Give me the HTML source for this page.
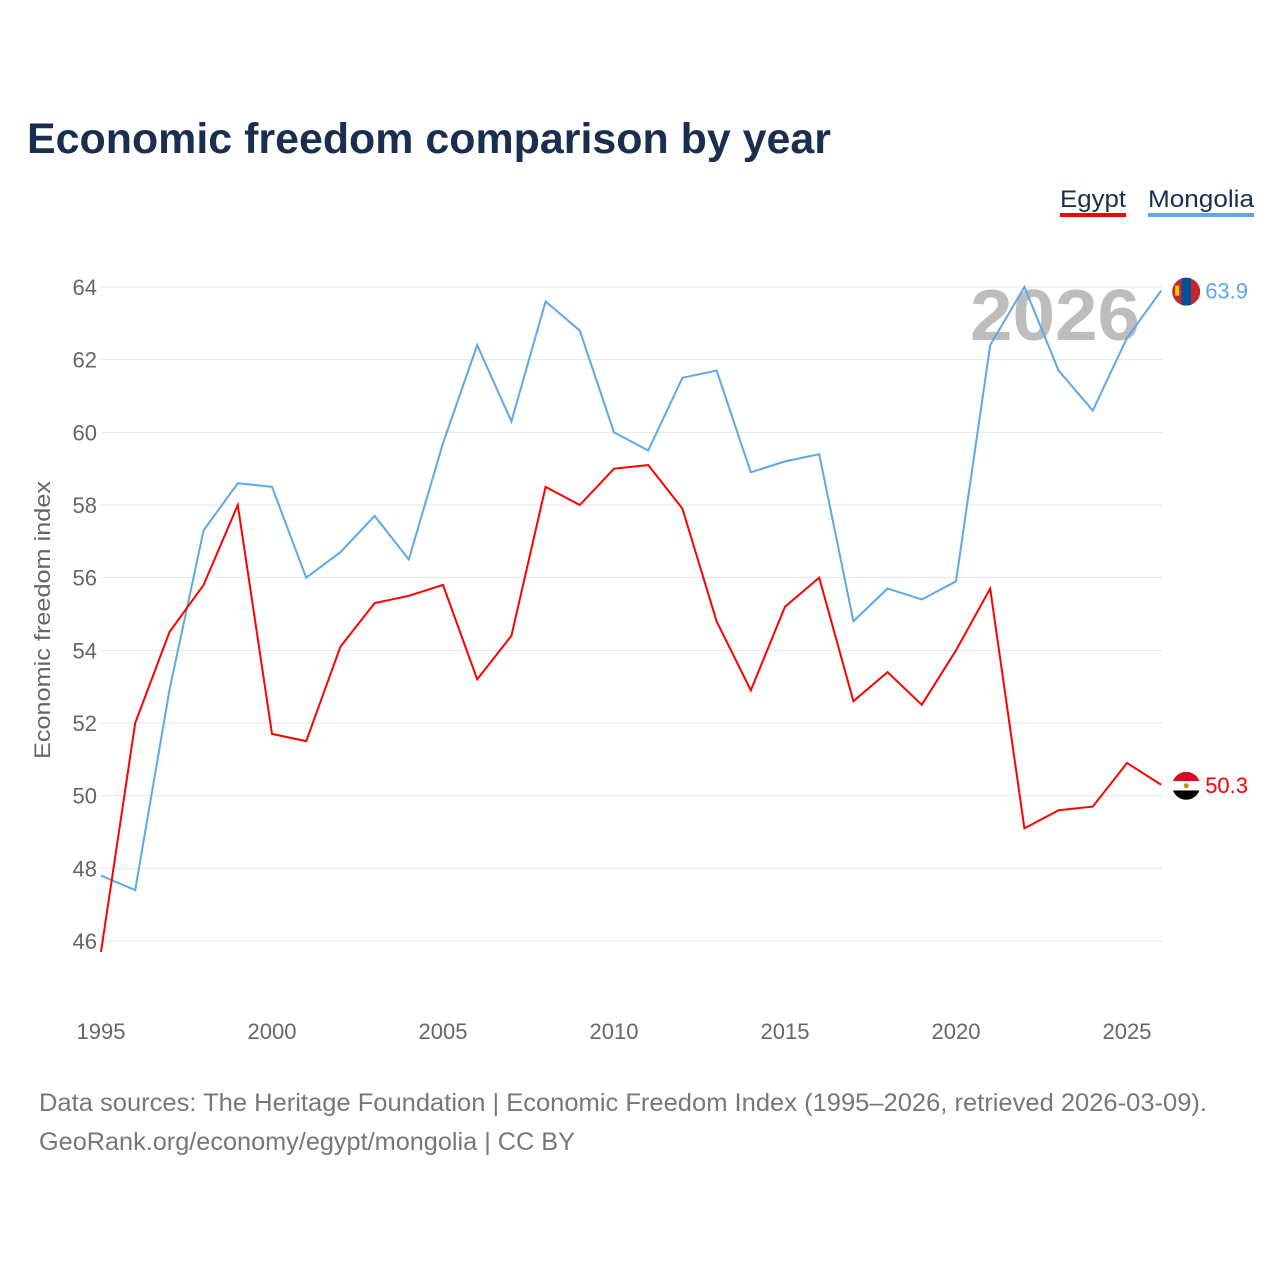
<!DOCTYPE html>
<html><head><meta charset="utf-8"><style>
body{margin:0;background:#fff;font-family:"Liberation Sans",sans-serif;}
</style></head><body>
<svg id="chart" width="1280" height="1280" xmlns="http://www.w3.org/2000/svg">
<defs>
<clipPath id="cm"><circle cx="0" cy="0" r="14"/></clipPath>
</defs>
<text x="27" y="153" font-size="43" font-weight="bold" fill="#1a2e4f" textLength="804" lengthAdjust="spacingAndGlyphs">Economic freedom comparison by year</text>
<g>
<text x="1060" y="207" font-size="24" fill="#1a2e4f" textLength="66" lengthAdjust="spacingAndGlyphs">Egypt</text>
<rect x="1060" y="213" width="66" height="4" fill="#ff0000"/>
<text x="1148" y="207" font-size="24" fill="#1a2e4f" textLength="106" lengthAdjust="spacingAndGlyphs">Mongolia</text>
<rect x="1148" y="213" width="106" height="4" fill="#5ca8ea"/>
</g>
<g id="grid"></g>
<text x="1140" y="340" font-size="72" font-weight="bold" fill="#bdbdbd" text-anchor="end" textLength="170" lengthAdjust="spacingAndGlyphs">2026</text>
<g id="series"></g>
<text transform="translate(50,620) rotate(-90)" font-size="22" fill="#666" text-anchor="middle" textLength="278" lengthAdjust="spacingAndGlyphs">Economic freedom index</text>
<text x="39" y="1111" font-size="25" fill="#777" textLength="1168" lengthAdjust="spacingAndGlyphs">Data sources: The Heritage Foundation | Economic Freedom Index (1995–2026, retrieved 2026-03-09).</text>
<text x="39" y="1150" font-size="25" fill="#777" textLength="536" lengthAdjust="spacingAndGlyphs">GeoRank.org/economy/egypt/mongolia | CC BY</text>
</svg>
<script>
const years=[1995,1996,1997,1998,1999,2000,2001,2002,2003,2004,2005,2006,2007,2008,2009,2010,2011,2012,2013,2014,2015,2016,2017,2018,2019,2020,2021,2022,2023,2024,2025,2026];
const egypt=[45.7,52.0,54.5,55.8,58.0,51.7,51.5,54.1,55.3,55.5,55.8,53.2,54.4,58.5,58.0,59.0,59.1,57.9,54.8,52.9,55.2,56.0,52.6,53.4,52.5,54.0,55.7,49.1,49.6,49.7,50.9,50.3];
const mongolia=[47.8,47.4,52.9,57.3,58.6,58.5,56.0,56.7,57.7,56.5,59.7,62.4,60.3,63.6,62.8,60.0,59.5,61.5,61.7,58.9,59.2,59.4,54.8,55.7,55.4,55.9,62.4,64.0,61.7,60.6,62.6,63.9];
const yTicks=[46,48,50,52,54,56,58,60,62,64];
const xTicks=[1995,2000,2005,2010,2015,2020,2025];
const NS="http://www.w3.org/2000/svg";
const X=v=>101+(v-1995)*34.2;
const Y=v=>287+(64-v)*36.333;
function mk(t,a,p){const e=document.createElementNS(NS,t);for(const k in a)e.setAttribute(k,a[k]);p.appendChild(e);return e;}
const grid=document.getElementById('grid'),ser=document.getElementById('series');
yTicks.forEach(t=>{
 const l=mk('line',{x1:101,x2:1162,y1:Y(t),y2:Y(t),stroke:'#e6e6e6','stroke-width':1},grid);
 
 
 const tx=mk('text',{x:97,y:Y(t)+8,'font-size':22,fill:'#666','text-anchor':'end'},grid);
 tx.textContent=t;
 
 
});
xTicks.forEach(t=>{
 const tx=mk('text',{x:X(t),y:1039,'font-size':22,fill:'#666','text-anchor':'middle'},grid);
 tx.textContent=t;
 
 
});
function line(vals,col,name,flag){
 const p=mk('polyline',{points:vals.map((v,i)=>X(years[i])+','+Y(v)).join(' '),fill:'none',stroke:col,'stroke-width':2},ser);
 
 
 const last=vals[vals.length-1],lx=X(years[years.length-1]);
 const g=mk('g',{transform:'translate('+(lx+25)+','+(Y(last)+1)+')','clip-path':'url(#cm)'},ser);
 
 
 if(flag==='mn'){
  mk('rect',{x:-14,y:-14,width:28,height:28,fill:'#c4272f'},g);
  mk('rect',{x:-4.7,y:-14,width:9.4,height:28,fill:'#015197'},g);
  mk('rect',{x:-11,y:-6,width:4,height:10,fill:'#f9cf02'},g);
 }else{
  mk('rect',{x:-14,y:-14,width:28,height:9.4,fill:'#ce1126'},g);
  mk('rect',{x:-14,y:-4.7,width:28,height:9.4,fill:'#ffffff'},g);
  mk('rect',{x:-14,y:4.7,width:28,height:9.4,fill:'#000000'},g);
  mk('circle',{cx:0,cy:0,r:2.5,fill:'#c09300'},g);
 }
 const t=mk('text',{x:lx+44,y:Y(last)+8,'font-size':22,fill:col},ser);
 t.textContent=last.toFixed(1);
 
 
}
line(mongolia,'#5ca8ea','mongolia','mn');
line(egypt,'#ff0000','egypt','eg');
</script>
</body></html>
